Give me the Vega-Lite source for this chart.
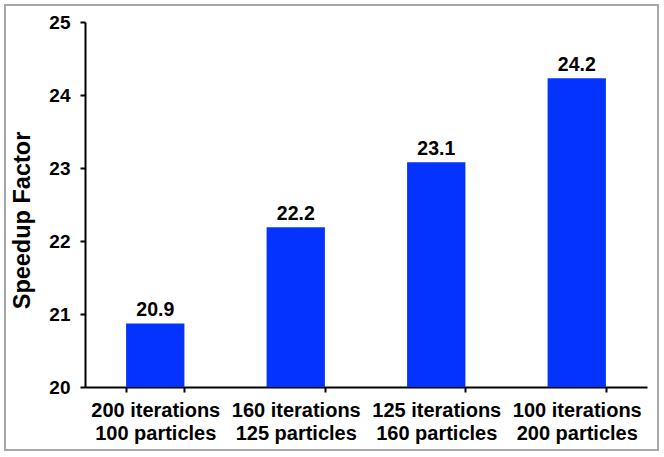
{
  "$schema": "https://vega.github.io/schema/vega-lite/v6.json",
  "width": 653,
  "height": 445,
  "autosize": {"type": "none"},
  "padding": {"left": 5, "top": 5, "right": 6, "bottom": 7},
  "background": "white",
  "config": {
    "view": {"stroke": "#a8a8a8", "strokeWidth": 2},
    "font": "Liberation Sans"
  },
  "data": {
    "values": [
      {"config": "200 iterations\n100 particles", "speedup": 20.87, "label": "20.9"},
      {"config": "160 iterations\n125 particles", "speedup": 22.19, "label": "22.2"},
      {"config": "125 iterations\n160 particles", "speedup": 23.08, "label": "23.1"},
      {"config": "100 iterations\n200 particles", "speedup": 24.23, "label": "24.2"}
    ]
  },
  "encoding": {
    "x": {
      "field": "config",
      "type": "nominal",
      "sort": null,
      "scale": {"paddingInner": 0.585, "paddingOuter": 0.2925, "range": [80, 642]},
      "axis": {
        "title": null,
        "offset": -63,
        "labelAngle": 0,
        "labelExpr": "isString(datum.value) ? split(datum.value, '\\n') : ''",
        "labelFont": "Liberation Sans",
        "labelFontSize": 20,
        "labelFontWeight": "bold",
        "labelColor": "black",
        "labelLineHeight": 23,
        "labelPadding": 8,
        "domainColor": "black",
        "domainWidth": 2,
        "tickColor": "black",
        "tickWidth": 2,
        "tickSize": 5,
        "tickBand": "extent",
        "grid": false
      }
    },
    "y": {
      "field": "speedup",
      "type": "quantitative",
      "scale": {"domain": [20, 25], "zero": false, "range": [382, 17]},
      "axis": {
        "title": "Speedup Factor",
        "offset": -80,
        "titleFont": "Liberation Sans",
        "titleFontSize": 23.5,
        "titleFontWeight": "bold",
        "titleColor": "black",
        "titlePadding": 14,
        "titleY": 215,
        "values": [20, 21, 22, 23, 24, 25],
        "labelFont": "Liberation Sans",
        "labelFontSize": 19,
        "labelFontWeight": "bold",
        "labelColor": "black",
        "labelPadding": 10,
        "domainColor": "black",
        "domainWidth": 2,
        "tickColor": "black",
        "tickWidth": 2,
        "tickSize": 5,
        "grid": false
      }
    }
  },
  "layer": [
    {
      "mark": {"type": "bar", "color": "#0433ff"},
      "encoding": {"y2": {"datum": 20}}
    },
    {
      "mark": {"type": "text", "baseline": "bottom", "dy": -3, "font": "Liberation Sans", "fontSize": 19.5, "fontWeight": "bold", "color": "black"},
      "encoding": {"text": {"field": "label"}}
    }
  ]
}
